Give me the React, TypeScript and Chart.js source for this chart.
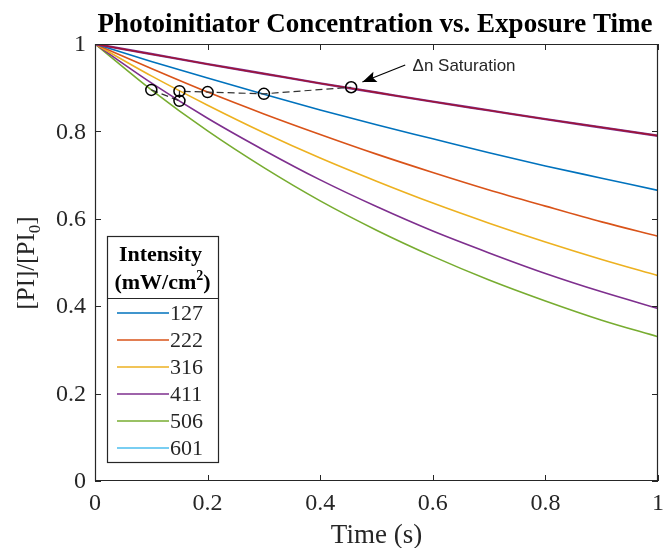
import React, { useEffect, useRef } from "react";
import { Chart, registerables } from "chart.js";
Chart.register(...registerables);

// ---- data ----
const times = [0, 0.1, 0.2, 0.3, 0.4, 0.5, 0.6, 0.7, 0.8, 0.9, 1.0];
const lineTop = [1, 0.977, 0.954, 0.932, 0.91, 0.889, 0.868, 0.848, 0.828, 0.809, 0.79];
const lineBlue = [1, 0.96, 0.922, 0.885, 0.849, 0.815, 0.783, 0.751, 0.721, 0.693, 0.665];
const lineOrange = [1, 0.944, 0.89, 0.84, 0.793, 0.748, 0.706, 0.666, 0.629, 0.593, 0.56];
const lineYellow = [1, 0.927, 0.86, 0.797, 0.739, 0.686, 0.636, 0.59, 0.547, 0.507, 0.47];
const linePurple = [1, 0.911, 0.83, 0.757, 0.689, 0.628, 0.572, 0.522, 0.475, 0.433, 0.395];
const lineGreen = [1, 0.895, 0.801, 0.717, 0.641, 0.574, 0.514, 0.46, 0.412, 0.368, 0.33];

const satX = [0.1, 0.15, 0.15, 0.2, 0.3, 0.455];
const satY = [0.895, 0.87, 0.892, 0.89, 0.886, 0.901];

const intensityLabels = ["127", "222", "316", "411", "506", "601"];
const legendColors = ["#0072BD", "#D95319", "#EDB120", "#7E2F8E", "#77AC30", "#4DBEEE"];

const xTicks = [0, 0.2, 0.4, 0.6, 0.8, 1];
const yTicks = [0, 0.2, 0.4, 0.6, 0.8, 1];
const xTickLabels = ["0", "0.2", "0.4", "0.6", "0.8", "1"];
const yTickLabels = ["0", "0.2", "0.4", "0.6", "0.8", "1"];

const titleText = "Photoinitiator Concentration vs. Exposure Time";
const xTitle = "Time (s)";
const annotationText = "\u0394n Saturation";

const SERIF = "'Liberation Serif', 'Times New Roman', serif";
const AX = "#262626";

const pts = (arr: number[]) => times.map((t, i) => ({ x: t, y: arr[i] }));

const drawPlugin = {
  id: "matlabDecor",
  afterDatasetsDraw(chart: any) {
    const ctx = chart.ctx;
    const xs = chart.scales.x;
    const ys = chart.scales.y;
    const { left, right, top, bottom } = chart.chartArea;
    ctx.save();
    // box
    ctx.strokeStyle = AX;
    ctx.lineWidth = 1.2;
    ctx.beginPath();
    ctx.rect(left + 0.5, top + 0.5, right - left - 1, bottom - top - 1);
    ctx.stroke();
    // ticks
    const tl = 6;
    ctx.lineWidth = 1;
    ctx.beginPath();
    xTicks.forEach((v) => {
      const px = Math.round(xs.getPixelForValue(v)) + 0.5;
      ctx.moveTo(px, bottom);
      ctx.lineTo(px, bottom - tl);
      ctx.moveTo(px, top);
      ctx.lineTo(px, top + tl);
    });
    yTicks.forEach((v) => {
      const py = Math.round(ys.getPixelForValue(v)) + 0.5;
      ctx.moveTo(left, py);
      ctx.lineTo(left + tl, py);
      ctx.moveTo(right, py);
      ctx.lineTo(right - tl, py);
    });
    ctx.stroke();
    // tick labels
    ctx.fillStyle = AX;
    ctx.font = `24px ${SERIF}`;
    ctx.textAlign = "center";
    ctx.textBaseline = "middle";
    xTicks.forEach((v, i) => {
      ctx.fillText(xTickLabels[i], xs.getPixelForValue(v), bottom + 23);
    });
    ctx.textAlign = "right";
    yTicks.forEach((v, i) => {
      ctx.fillText(yTickLabels[i], left - 9, ys.getPixelForValue(v) + 1);
    });
    // x title
    ctx.font = `27px ${SERIF}`;
    ctx.textAlign = "center";
    ctx.fillText(xTitle, (left + right) / 2, bottom + 55);
    // y title with subscript
    ctx.save();
    ctx.translate(34, 263);
    ctx.rotate(-Math.PI / 2);
    ctx.font = `25px ${SERIF}`;
    ctx.textAlign = "left";
    ctx.textBaseline = "alphabetic";
    const p1 = "[PI]/[PI";
    const sub = "0";
    const p2 = "]";
    const w1 = ctx.measureText(p1).width;
    ctx.font = `17px ${SERIF}`;
    const ws = ctx.measureText(sub).width;
    ctx.font = `25px ${SERIF}`;
    const w2 = ctx.measureText(p2).width;
    const total = w1 + ws + w2;
    const x0 = -total / 2;
    ctx.fillText(p1, x0, 0);
    ctx.font = `17px ${SERIF}`;
    ctx.fillText(sub, x0 + w1, 6);
    ctx.font = `25px ${SERIF}`;
    ctx.fillText(p2, x0 + w1 + ws, 0);
    ctx.restore();
    // title
    ctx.fillStyle = "#000";
    ctx.font = `bold 27px ${SERIF}`;
    ctx.textAlign = "center";
    ctx.textBaseline = "alphabetic";
    ctx.fillText(titleText, 375, 32);
    // annotation arrow
    const ax1 = xs.getPixelForValue(0.551);
    const ay1 = ys.getPixelForValue(0.952);
    const ax2 = xs.getPixelForValue(0.475);
    const ay2 = ys.getPixelForValue(0.913);
    ctx.strokeStyle = "#000";
    ctx.lineWidth = 1.2;
    ctx.beginPath();
    ctx.moveTo(ax1, ay1);
    ctx.lineTo(ax2, ay2);
    ctx.stroke();
    const ang = Math.atan2(ay2 - ay1, ax2 - ax1);
    const hl = 14, hw = 5.5;
    ctx.beginPath();
    ctx.moveTo(ax2, ay2);
    ctx.lineTo(ax2 - hl * Math.cos(ang) + hw * Math.sin(ang), ay2 - hl * Math.sin(ang) - hw * Math.cos(ang));
    ctx.lineTo(ax2 - hl * Math.cos(ang) * 0.8, ay2 - hl * Math.sin(ang) * 0.8);
    ctx.lineTo(ax2 - hl * Math.cos(ang) - hw * Math.sin(ang), ay2 - hl * Math.sin(ang) + hw * Math.cos(ang));
    ctx.closePath();
    ctx.fillStyle = "#000";
    ctx.fill();
    ctx.fillStyle = AX;
    ctx.font = `17px 'Liberation Sans', Arial, sans-serif`;
    ctx.textAlign = "left";
    ctx.textBaseline = "middle";
    ctx.fillText(annotationText, xs.getPixelForValue(0.564), ys.getPixelForValue(0.95));
    // legend
    const lx = 107, ly = 236, lw = 111, lh = 226;
    ctx.fillStyle = "#fff";
    ctx.fillRect(lx, ly, lw, lh);
    ctx.strokeStyle = AX;
    ctx.lineWidth = 1.2;
    ctx.strokeRect(lx + 0.5, ly + 0.5, lw, lh);
    ctx.beginPath();
    ctx.moveTo(lx, ly + 62.5);
    ctx.lineTo(lx + lw, ly + 62.5);
    ctx.stroke();
    ctx.fillStyle = "#000";
    ctx.font = `bold 22px ${SERIF}`;
    ctx.textAlign = "center";
    ctx.fillText("Intensity", lx + lw / 2 - 2, ly + 19);
    const a = "(mW/cm";
    const b = "2";
    const c = ")";
    const wa = ctx.measureText(a).width;
    ctx.font = `bold 14px ${SERIF}`;
    const wb = ctx.measureText(b).width;
    ctx.font = `bold 22px ${SERIF}`;
    const wc = ctx.measureText(c).width;
    const sx = lx + lw / 2 - (wa + wb + wc) / 2;
    ctx.textAlign = "left";
    ctx.fillText(a, sx, ly + 47);
    ctx.font = `bold 14px ${SERIF}`;
    ctx.fillText(b, sx + wa, ly + 40);
    ctx.font = `bold 22px ${SERIF}`;
    ctx.fillText(c, sx + wa + wb, ly + 47);
    ctx.font = `22px ${SERIF}`;
    intensityLabels.forEach((lab, i) => {
      const yy = ly + 77 + i * 27;
      ctx.strokeStyle = legendColors[i];
      ctx.lineWidth = 1.6;
      ctx.beginPath();
      ctx.moveTo(lx + 10, yy);
      ctx.lineTo(lx + 62, yy);
      ctx.stroke();
      ctx.fillStyle = AX;
      ctx.fillText(lab, lx + 63, yy + 1);
    });
    ctx.restore();
  },
};

export default function App() {
  const ref = useRef<HTMLCanvasElement | null>(null);
  useEffect(() => {
    if (!ref.current) return;
    const lineDs = (data: number[], color: string, order: number, width = 1.6) => ({
      type: "line" as const,
      data: pts(data),
      borderColor: color,
      borderWidth: width,
      pointRadius: 0,
      cubicInterpolationMode: "monotone" as const,
      fill: false,
      order,
    });
    const chart = new Chart(ref.current, {
      type: "line",
      data: {
        datasets: [
          {
            type: "line",
            data: satX.map((x, i) => ({ x, y: satY[i] })),
            borderColor: "#333",
            borderWidth: 1.2,
            borderDash: [7, 4],
            pointRadius: 5.5,
            pointBorderColor: "#000",
            pointBorderWidth: 1.5,
            pointBackgroundColor: "rgba(0,0,0,0)",
            tension: 0,
            fill: false,
            order: 0,
          } as any,
          lineDs(lineTop, "#A2142F", 2, 1.3),
          lineDs(lineTop, "#7E2F8E", 3, 2.4),
          lineDs(lineBlue, legendColors[0], 4),
          lineDs(lineOrange, legendColors[1], 5),
          lineDs(lineYellow, legendColors[2], 6),
          lineDs(linePurple, legendColors[3], 7),
          lineDs(lineGreen, legendColors[4], 8),
        ],
      },
      options: {
        animation: false,
        responsive: false,
        maintainAspectRatio: false,
        layout: { padding: { left: 0, top: 44, right: 2, bottom: 0 } },
        plugins: { legend: { display: false }, tooltip: { enabled: false }, title: { display: false } },
        scales: {
          x: {
            type: "linear",
            min: 0,
            max: 1,
            grid: { display: false, drawTicks: false },
            border: { display: false },
            ticks: { display: false },
            afterFit: (s: any) => {
              s.height = 67;
            },
          },
          y: {
            type: "linear",
            min: 0,
            max: 1,
            grid: { display: false, drawTicks: false },
            border: { display: false },
            ticks: { display: false },
            afterFit: (s: any) => {
              s.width = 95;
            },
          },
        },
      },
      plugins: [drawPlugin],
    });
    return () => chart.destroy();
  }, []);
  return (
    <div style={{ position: "fixed", left: 0, top: 0, width: 665, height: 548, background: "#fff" }}>
      <canvas ref={ref} width={665} height={548} style={{ display: "block" }} />
    </div>
  );
}
